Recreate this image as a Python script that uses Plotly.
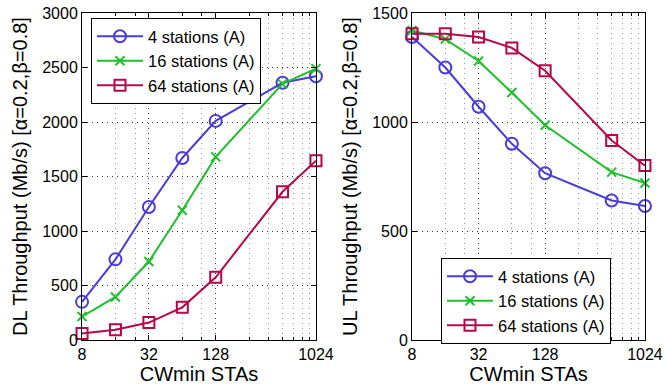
import math
import plotly.graph_objects as go

cw = [8, 16, 32, 64, 128, 512, 1024]
series_names = ["4 stations (A)", "16 stations (A)", "64 stations (A)"]

dl_4 = [350, 740, 1220, 1670, 2010, 2360, 2420]
dl_16 = [215, 395, 720, 1190, 1680, 2350, 2490]
dl_64 = [60, 95, 160, 300, 575, 1360, 1645]

ul_4 = [1390, 1250, 1070, 900, 765, 640, 615]
ul_16 = [1420, 1380, 1280, 1135, 985, 770, 720]
ul_64 = [1405, 1405, 1390, 1340, 1235, 915, 800]

x_ticks = [8, 32, 128, 1024]
x_minor = [16, 24, 64, 96, 256, 384, 512, 640, 768, 896]

colors = ["#4a3cd6", "#1fbf2e", "#b3084a"]
symbols = ["circle-open", "x-thin-open", "square-open"]
sizes = [12, 9, 11]

FONT = "Liberation Sans, Arial, sans-serif"

fig = go.Figure()

for i, (ys, name) in enumerate(zip([dl_4, dl_16, dl_64], series_names)):
    fig.add_trace(go.Scatter(
        x=cw, y=ys, name=name, mode="lines+markers",
        line=dict(color=colors[i], width=2),
        marker=dict(symbol=symbols[i], size=sizes[i], color=colors[i],
                    line=dict(color=colors[i], width=2)),
        cliponaxis=False, xaxis="x", yaxis="y", legend="legend"))

for i, (ys, name) in enumerate(zip([ul_4, ul_16, ul_64], series_names)):
    fig.add_trace(go.Scatter(
        x=cw, y=ys, name=name, mode="lines+markers",
        line=dict(color=colors[i], width=2),
        marker=dict(symbol=symbols[i], size=sizes[i], color=colors[i],
                    line=dict(color=colors[i], width=2)),
        cliponaxis=False, xaxis="x2", yaxis="y2", legend="legend2"))

xr = [math.log10(8) - 0.0004, math.log10(1024) + 0.0004]


def xaxis_cfg(domain, anchor):
    return dict(
        type="log", range=xr, domain=domain, anchor=anchor, automargin=False,
        tickmode="array", tickvals=x_ticks, ticktext=[str(v) for v in x_ticks],
        ticks="inside", ticklen=5, tickcolor="black",
        showline=True, linecolor="black", linewidth=1, mirror="ticks",
        showgrid=True, gridcolor="#333333", griddash="1px,4px", gridwidth=1,
        minor=dict(tickmode="array", tickvals=x_minor, ticks="inside", ticklen=3,
                   tickcolor="black", showgrid=True, gridcolor="#9a9a9a",
                   griddash="1px,4px", gridwidth=1),
        tickfont=dict(family=FONT, size=16, color="black"),
        title=dict(text="CWmin STAs", font=dict(family=FONT, size=20, color="black"),
                   standoff=2),
        zeroline=False,
    )


def yaxis_cfg(domain, anchor, rng, title):
    return dict(
        range=rng, domain=domain, anchor=anchor, dtick=500, tick0=0, automargin=False,
        ticks="inside", ticklen=5, tickcolor="black",
        showline=True, linecolor="black", linewidth=1, mirror="ticks",
        showgrid=True, gridcolor="#333333", griddash="1px,4px", gridwidth=1,
        tickfont=dict(family=FONT, size=16, color="black"),
        title=dict(text=title, font=dict(family=FONT, size=20, color="black"),
                   standoff=9),
        zeroline=False,
    )


ydom = [1 - 340 / 387, 1 - 13 / 387]

legend_common = dict(xanchor="left", yanchor="top",
                     bgcolor="white", bordercolor="black", borderwidth=1,
                     font=dict(family=FONT, size=16.5, color="black"),
                     tracegroupgap=0, itemwidth=46)

fig.update_layout(
    width=665, height=387,
    margin=dict(l=0, r=0, t=0, b=0, pad=0, autoexpand=False),
    paper_bgcolor="white", plot_bgcolor="white",
    font=dict(family=FONT, color="black"),
    xaxis=xaxis_cfg([82 / 665, 316 / 665], "y"),
    yaxis=yaxis_cfg(ydom, "x", [0, 3000], "DL Throughput (Mb/s) [α=0.2,β=0.8]"),
    xaxis2=xaxis_cfg([412 / 665, 645 / 665], "y2"),
    yaxis2=yaxis_cfg(ydom, "x2", [0, 1500], "UL Throughput (Mb/s) [α=0.2,β=0.8]"),
    legend=dict(x=91 / 665, y=1 - 18 / 387, **legend_common),
    legend2=dict(x=441 / 665, y=1 - 258 / 387, **legend_common),
    showlegend=True,
)

fig.write_html("out.html", config={"displayModeBar": False},
               post_script="document.body.style.margin='0';document.body.style.overflow='hidden';")
